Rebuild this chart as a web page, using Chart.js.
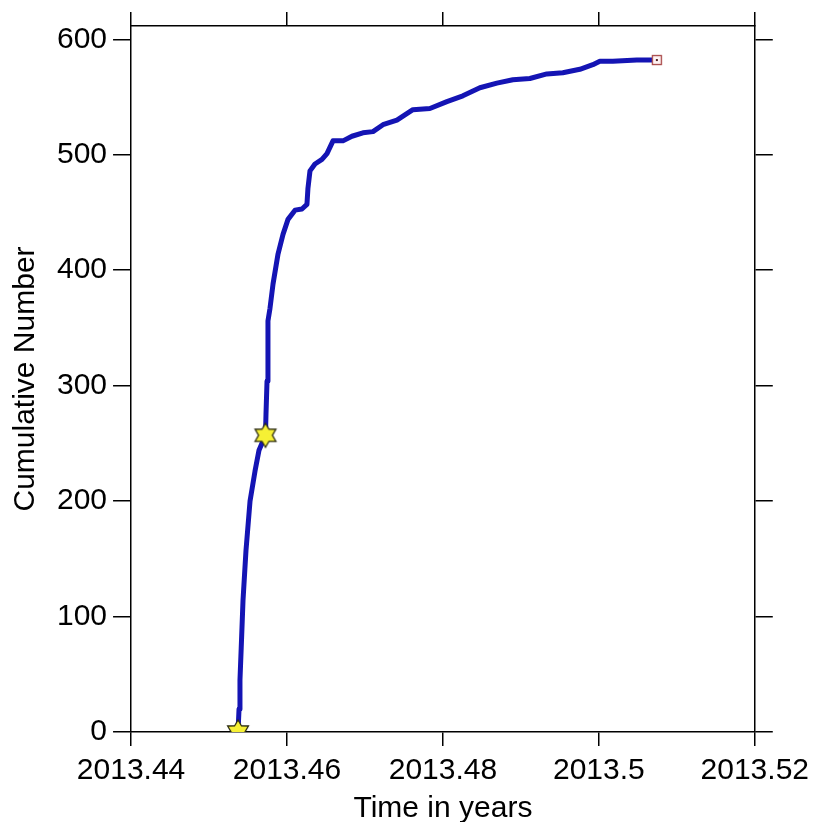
<!DOCTYPE html>
<html>
<head>
<meta charset="utf-8">
<script src="https://cdn.jsdelivr.net/npm/chart.js@4/dist/chart.umd.min.js"></script>
<style>
html,body{margin:0;padding:0;background:#fff;}
#wrap{width:815px;height:822px;position:relative;}
</style>
</head>
<body>
<div id="wrap"><canvas id="c"></canvas></div>
<script>
// ---- data ----
const times = [2013.45372,2013.45385,2013.45397,2013.45417,2013.45436,2013.45474,2013.45526,2013.45590,2013.45641,2013.45692,2013.45724,2013.45731,2013.45744,2013.45756,2013.45782,2013.45821,2013.45885,2013.45949,2013.46013,2013.46103,2013.46192,2013.46256,2013.46269,2013.46295,2013.46359,2013.46449,2013.46513,2013.46590,2013.46718,2013.46833,2013.46974,2013.47103,2013.47231,2013.47410,2013.47615,2013.47833,2013.48051,2013.48256,2013.48474,2013.48692,2013.48897,2013.49115,2013.49333,2013.49538,2013.49756,2013.49923,2013.50013,2013.50179,2013.50487,2013.50744];
const counts = [0,20,45,80,114,157,200,226,244,252,257,276,304,356,367,388,414,431,444,452,453,457,471,486,492,496,501,512,512,516,519,520,526,530,539,540,546,551,558,562,565,566,570,571,574,578,581,581,582,582];
const starTimes = [2013.45372,2013.45724];
const starValues = [0,257];
const endTimes = [2013.50744];
const endValues = [582];
const xTicks = [2013.44,2013.46,2013.48,2013.5,2013.52];
const yTicks = [0,100,200,300,400,500,600];
const xTitle = 'Time in years';
const yTitle = 'Cumulative Number';

// ---- marker images ----
function starImg(){
  const R=12, s=R*2+4, c=document.createElement('canvas');
  c.width=s;c.height=s;const g=c.getContext('2d');const cx=s/2,cy=s/2;
  g.beginPath();
  for(let i=0;i<12;i++){
    const r = i%2===0?R:R*0.58;
    const a = -Math.PI/2 + i*Math.PI/6;
    const px=cx+r*Math.cos(a), py=cy+r*Math.sin(a);
    if(i===0)g.moveTo(px,py);else g.lineTo(px,py);
  }
  g.closePath();g.fillStyle='#f6f034';g.fill();g.lineWidth=1.3;g.strokeStyle='#2a2a10';g.stroke();
  return c;
}
function squareImg(){
  const s=12,c=document.createElement('canvas');c.width=s;c.height=s;const g=c.getContext('2d');
  g.fillStyle='#fff4f4';g.fillRect(1,1,10,10);
  g.strokeStyle='#a84848';g.lineWidth=1.3;g.strokeRect(1.5,1.5,9,9);
  g.fillStyle='#502020';g.fillRect(5,5,2,2);
  return c;
}

const FAM = '"Liberation Sans", Arial, sans-serif';
const XTICKFONT = {family:FAM, size:30, lineHeight:1.267};
const YTICKFONT = {family:FAM, size:30, lineHeight:1.0};
const YTITLEFONT = {family:FAM, size:30, lineHeight:1.2};
const XTITLEFONT = {family:FAM, size:30, lineHeight:0.867};
function fmt(v){return String(Number(Number(v).toFixed(2)));}

const xBase = {type:'linear', min:2013.44, max:2013.52,
  afterBuildTicks:(s)=>{s.ticks = xTicks.map(v=>({value:v}));},
  border:{display:true,color:'#000',width:1.5},
  grid:{drawOnChartArea:false,drawTicks:true,tickLength:14,color:'#000',lineWidth:1.5}};
const yBase = {type:'linear', min:0, max:611.5,
  afterBuildTicks:(s)=>{s.ticks = yTicks.map(v=>({value:v}));},
  border:{display:true,color:'#000',width:1.5},
  grid:{drawOnChartArea:false,drawTicks:true,tickLength:18,color:'#000',lineWidth:1.5}};

new Chart(document.getElementById('c'),{
  type:'line',
  data:{datasets:[
    {label:'events',data:starTimes.map((t,i)=>({x:t,y:starValues[i]})),showLine:false,
     pointStyle:starImg(),pointRadius:12,order:0},
    {label:'end',data:endTimes.map((t,i)=>({x:t,y:endValues[i]})),showLine:false,
     pointStyle:squareImg(),pointRadius:6,order:1},
    {label:'cumulative',data:times.map((t,i)=>({x:t,y:counts[i]})),borderColor:'#1414b4',
     borderWidth:5,pointRadius:0,tension:0,fill:false,order:2,borderJoinStyle:'round',borderCapStyle:'round'}
  ]},
  options:{
    responsive:true,maintainAspectRatio:false,animation:false,
    layout:{padding:{left:8,right:42,top:12,bottom:0}},
    plugins:{legend:{display:false},tooltip:{enabled:false}},
    scales:{
      x:Object.assign({},xBase,{position:'bottom',
        ticks:{color:'#000',font:XTICKFONT,padding:6,maxRotation:0,callback:fmt},
        title:{display:true,text:xTitle,color:'#000',font:XTITLEFONT,padding:{top:0,bottom:0}}}),
      x2:Object.assign({},xBase,{position:'top',ticks:{display:false}}),
      y:Object.assign({},yBase,{position:'left',
        ticks:{color:'#000',font:YTICKFONT,padding:6,callback:fmt},
        title:{display:true,text:yTitle,color:'#000',font:YTITLEFONT,padding:{top:0,bottom:7}}}),
      y2:Object.assign({},yBase,{position:'right',ticks:{display:false}})
    }
  }
});
</script>
</body>
</html>
